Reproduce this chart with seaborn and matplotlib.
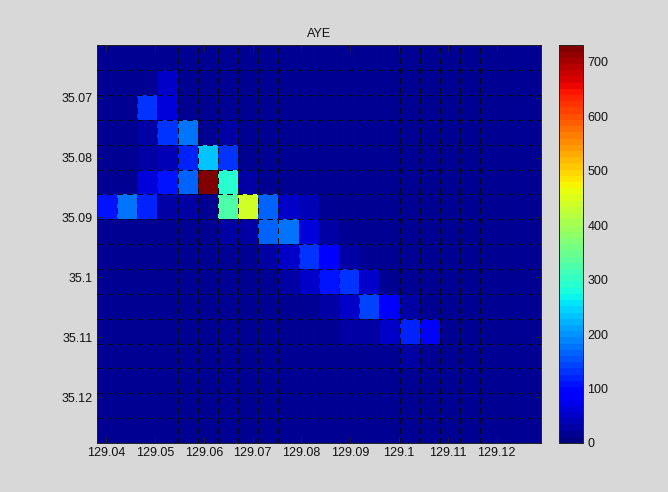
import numpy as np
import pandas as pd
import matplotlib
matplotlib.use("Agg")
import matplotlib.pyplot as plt
import matplotlib as mpl
import seaborn as sns

# ---------------- data ----------------
title = "AYE"
lon_ticks = [129.04, 129.05, 129.06, 129.07, 129.08, 129.09, 129.10, 129.11, 129.12]
lon_tick_labels = ["129.04", "129.05", "129.06", "129.07", "129.08",
                   "129.09", "129.1", "129.11", "129.12"]
lat_ticks = [35.07, 35.08, 35.09, 35.10, 35.11, 35.12]
lat_tick_labels = ["35.07", "35.08", "35.09", "35.1", "35.11", "35.12"]
cbar_ticks = [0, 100, 200, 300, 400, 500, 600, 700]

lon_edge0 = 129.03806   # western edge of first column
lon_step = 0.004139     # cell width (deg)
lat_edge0 = 35.06127    # northern edge of first row
lat_step = 0.004149     # cell height (deg)

counts = [
    [22, 22, 22, 22, 22, 22, 22, 22, 22, 22, 22, 22, 22, 22, 22, 22, 22, 22, 22, 22, 22, 22],
    [20, 20, 20, 55, 20, 20, 20, 20, 20, 20, 20, 20, 20, 20, 20, 20, 20, 20, 20, 20, 20, 20],
    [20, 20, 130, 62, 20, 22, 20, 20, 20, 20, 20, 20, 20, 20, 20, 20, 20, 20, 20, 20, 20, 20],
    [20, 20, 30, 130, 180, 22, 24, 20, 20, 20, 20, 20, 20, 20, 20, 20, 20, 20, 20, 20, 20, 20],
    [20, 20, 24, 45, 125, 235, 130, 22, 20, 20, 20, 20, 20, 20, 20, 20, 20, 20, 20, 20, 20, 20],
    [20, 22, 58, 105, 170, 730, 290, 25, 22, 20, 20, 20, 20, 20, 20, 20, 20, 20, 20, 20, 20, 20],
    [105, 175, 120, 26, 24, 22, 320, 440, 165, 55, 45, 20, 20, 20, 20, 20, 20, 20, 20, 20, 20, 20],
    [20, 20, 20, 20, 20, 20, 24, 30, 170, 175, 60, 30, 20, 20, 20, 20, 20, 20, 20, 20, 20, 20],
    [20, 20, 20, 20, 20, 20, 20, 20, 26, 55, 135, 80, 24, 20, 20, 20, 20, 20, 20, 20, 20, 20],
    [20, 20, 20, 20, 20, 20, 20, 20, 20, 24, 50, 110, 135, 55, 22, 20, 20, 20, 20, 20, 20, 20],
    [20, 20, 20, 20, 20, 20, 20, 20, 20, 20, 22, 26, 50, 140, 85, 24, 20, 20, 20, 20, 20, 20],
    [20, 20, 20, 20, 20, 20, 20, 20, 20, 20, 20, 20, 24, 30, 50, 120, 80, 22, 20, 20, 20, 20],
    [20, 20, 20, 20, 20, 20, 20, 20, 20, 20, 20, 20, 20, 20, 22, 24, 22, 20, 20, 20, 20, 20],
    [20, 20, 20, 20, 20, 20, 20, 20, 20, 20, 20, 20, 20, 20, 20, 20, 20, 20, 20, 20, 20, 20],
    [20, 20, 20, 20, 20, 20, 20, 20, 20, 20, 20, 20, 20, 20, 20, 20, 20, 20, 20, 20, 20, 20],
    [20, 20, 20, 20, 20, 20, 20, 20, 20, 20, 20, 20, 20, 20, 20, 20, 20, 20, 20, 20, 20, 20],
]

# ---------------- figure ----------------
sns.set_style("white")
plt.rcParams["font.family"] = ["Liberation Sans", "DejaVu Sans"]
bg = "#d8d8d8"

fig = plt.figure(figsize=(6.68, 4.92), dpi=100, facecolor=bg)
ax = fig.add_axes([0.1448, 0.0996, 0.6651, 0.8083])
cax = fig.add_axes([0.8373, 0.0996, 0.0350, 0.8083])

df = pd.DataFrame(np.array(counts, dtype=float))
jet64 = mpl.colormaps["jet"].resampled(64)

sns.heatmap(df, ax=ax, cmap=jet64, vmin=0, vmax=730, cbar=True, cbar_ax=cax,
            xticklabels=False, yticklabels=False)

nrows, ncols = df.shape

# tick positions in cell units via linear lon/lat mapping
xt = [(v - lon_edge0) / lon_step for v in lon_ticks]
yt = [(v - lat_edge0) / lat_step for v in lat_ticks]
ax.set_xticks(xt)
ax.set_xticklabels(lon_tick_labels, fontsize=9, color="#111111")
ax.set_yticks(yt)
ax.set_yticklabels(lat_tick_labels, fontsize=9, color="#111111")
ax.tick_params(axis="both", which="major", direction="in", length=4, width=0.6,
               top=True, right=True, bottom=True, left=True, pad=3, color="#222222")

# dashed grid at cell boundaries
ax.set_xticks(np.arange(1, ncols), minor=True)
ax.set_yticks(np.arange(1, nrows), minor=True)
ax.tick_params(which="minor", length=0)
ax.grid(which="minor", color="#0a0a14", linestyle=(0, (4, 3)), linewidth=1.0,
        antialiased=False)
ax.grid(which="major", visible=False)
ax.set_axisbelow(False)

for s in ax.spines.values():
    s.set_visible(True)
    s.set_color("#222222")
    s.set_linewidth(0.7)

ax.set_title(title, fontsize=9, color="#111111", pad=6)
ax.set_xlabel("")
ax.set_ylabel("")

# colorbar styling
cbar = ax.collections[0].colorbar
cbar.set_ticks(cbar_ticks)
cbar.ax.tick_params(labelsize=9, direction="in", length=4, width=0.6,
                    left=True, right=True, labelcolor="#111111", color="#222222")
cbar.outline.set_visible(True)
cbar.outline.set_edgecolor("#222222")
cbar.outline.set_linewidth(0.7)

fig.savefig("out.png", dpi=100, facecolor=bg)
